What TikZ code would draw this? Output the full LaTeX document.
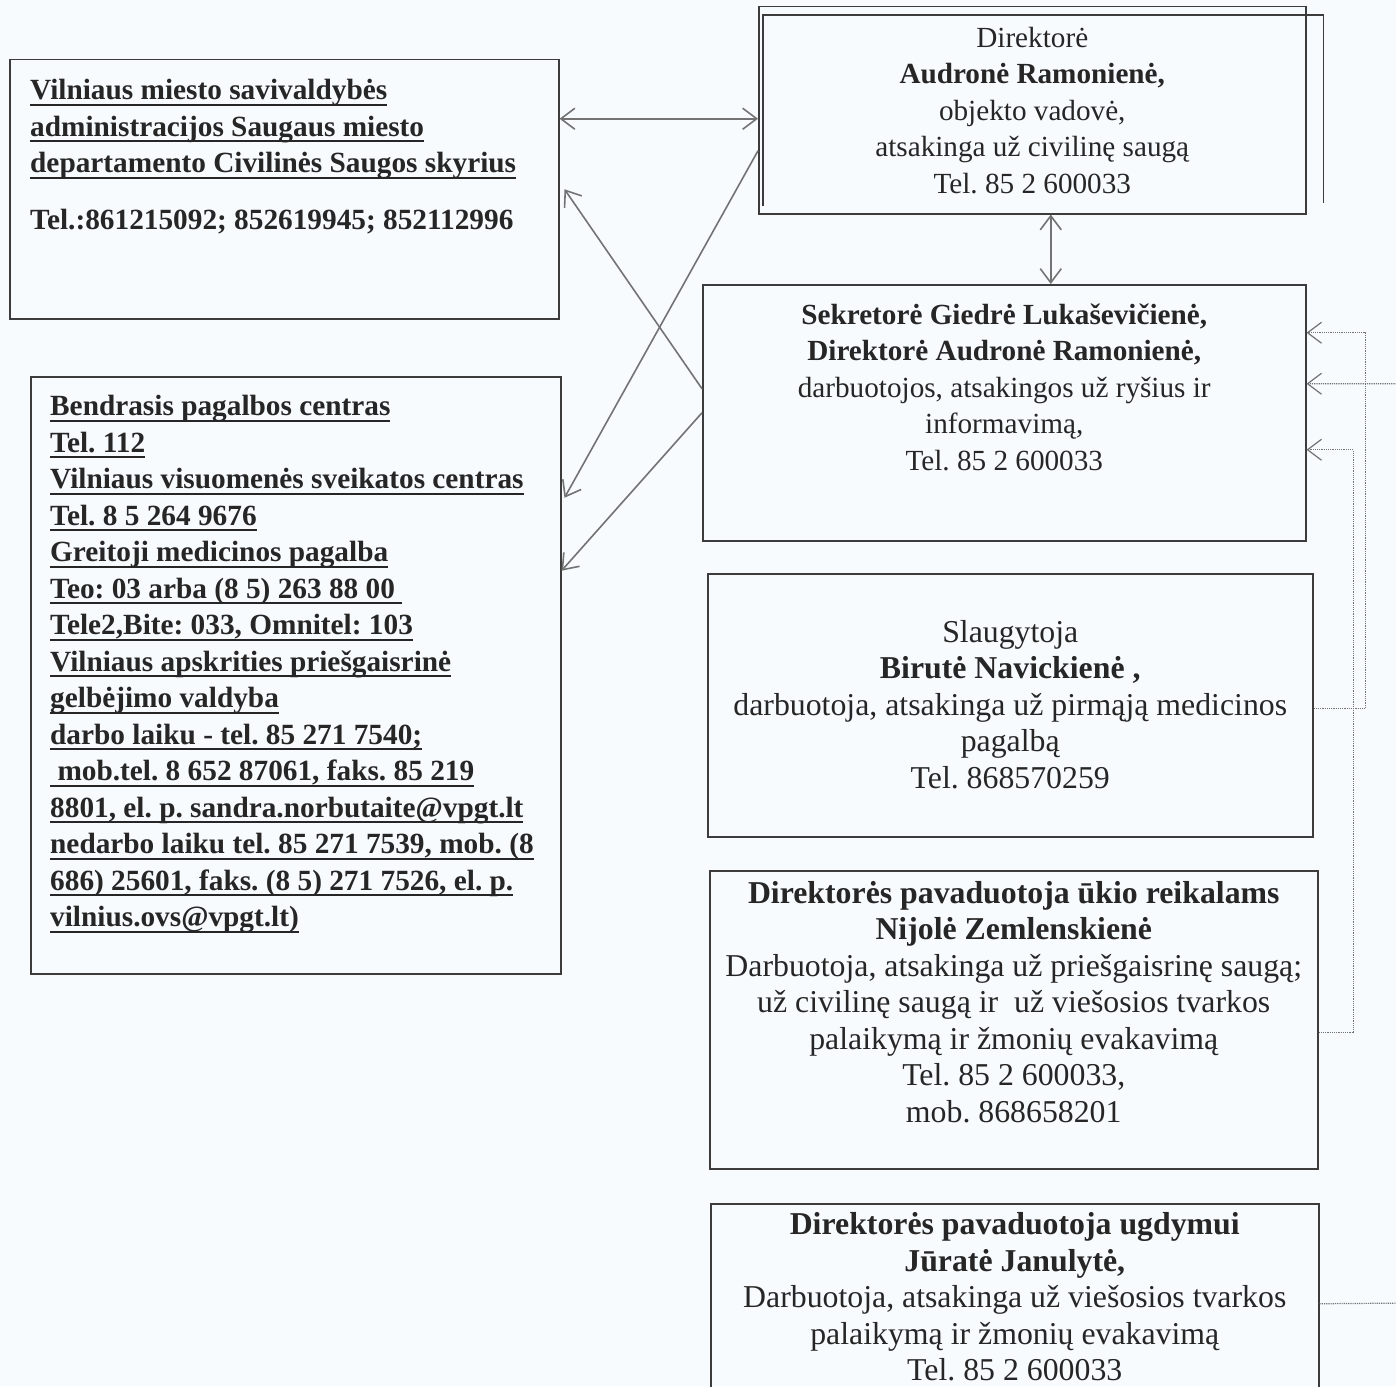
\documentclass[tikz,border=0pt]{standalone}
\usepackage{fontspec}
\setmainfont{Liberation Serif}
\usetikzlibrary{arrows.meta,positioning}
\definecolor{paper}{RGB}{247,251,253}
\definecolor{ink}{RGB}{38,38,38}
\definecolor{frame}{RGB}{60,60,60}
\definecolor{wire}{RGB}{115,115,115}
\newsavebox{\ulbox}
\newcommand{\ulin}[1]{\sbox{\ulbox}{#1}\rlap{\rule[-6pt]{\wd\ulbox}{2pt}}\usebox{\ulbox}}
\frenchspacing

\begin{document}
\begin{tikzpicture}[x=1pt,y=-1pt,
    every node/.style={inner sep=0pt,text=ink},
    >={Straight Barb[length=14pt,width=21pt]},
    frm/.style={draw=frame,line width=1.5pt,rectangle,anchor=north west},
    lft/.style={align=left,font=\fontsize{29.3}{36.5}\selectfont\bfseries},
    ctr/.style={align=center,font=\fontsize{29.2}{36.5}\selectfont},
    big/.style={align=center,font=\fontsize{31.8}{36.5}\selectfont},
    conn/.style={draw=wire,line width=1.6pt},
    link/.style={draw=wire,line width=1.2pt,densely dotted}]
  \fill[paper] (0,0) rectangle (1396,1386);
  \useasboundingbox (0,0) rectangle (1396,1386);

  \node[frm,minimum width=549pt,minimum height=259pt] (vilnius) at (9,59) {};
  \node[frm,minimum width=530pt,minimum height=597pt] (bendr) at (30,376) {};
  \node[frm,minimum width=547pt,minimum height=207pt] (dir) at (758,6) {};
  \node[frm,minimum width=603pt,minimum height=256pt] (sekr) at (702,284) {};
  \node[frm,minimum width=605pt,minimum height=263pt] (slaug) at (707,573) {};
  \node[frm,minimum width=608pt,minimum height=298pt] (ukio) at (709,870) {};
  \node[frm,minimum width=608pt,minimum height=220pt] (ugd) at (710,1203) {};
  \draw[draw=frame,line width=1.5pt] ([xshift=5pt,yshift=9pt]dir.south west) |- ([xshift=17pt,yshift=-9pt]dir.north east) -- ([xshift=17pt,yshift=12pt]dir.south east);

  \node[lft,below right=20pt and 21pt of vilnius.north west] (vilniusT) {\ulin{Vilniaus miesto savivaldybės}\\
    \ulin{administracijos Saugaus miesto}\\
    \ulin{departamento Civilinės Saugos skyrius}\\[20.5pt]
    Tel.:861215092; 852619945; 852112996};
  \node[lft,below right=19pt and 20pt of bendr.north west] (bendrT) {\ulin{Bendrasis pagalbos centras}\\
    \ulin{Tel. 112}\\
    \ulin{Vilniaus visuomenės sveikatos centras}\\
    \ulin{Tel. 8 5 264 9676}\\
    \ulin{Greitoji medicinos pagalba}\\
    \ulin{Teo: 03 arba (8 5) 263 88 00\ }\\
    \ulin{Tele2,Bite: 033, Omnitel: 103}\\
    \ulin{Vilniaus apskrities priešgaisrinė}\\
    \ulin{gelbėjimo valdyba}\\
    \ulin{darbo laiku - tel. 85 271 7540;}\\
    \ulin{\ mob.tel. 8 652 87061, faks. 85 219}\\
    \ulin{8801, el. p. sandra.norbutaite@vpgt.lt}\\
    \ulin{nedarbo laiku tel. 85 271 7539, mob. (8}\\
    \ulin{686) 25601, faks. (8 5) 271 7526, el. p.}\\
    \ulin{vilnius.ovs@vpgt.lt)}};

  \node[ctr,below=21pt of dir.north] (dirT) {Direktorė\\
    \textbf{Audronė Ramonienė,}\\
    objekto vadovė,\\
    atsakinga už civilinę saugą\\
    Tel. 85 2 600033};
  \node[ctr,below=19.5pt of sekr.north] (sekrT) {\textbf{Sekretorė Giedrė Lukaševičienė,}\\
    \textbf{Direktorė Audronė Ramonienė,}\\
    darbuotojos, atsakingos už ryšius ir\\
    informavimą,\\
    Tel. 85 2 600033};
  \node[big,below=47pt of slaug.north] (slaugT) {Slaugytoja\\
    \textbf{Birutė Navickienė ,}\\
    darbuotoja, atsakinga už pirmąją medicinos\\
    pagalbą\\
    Tel. 868570259};
  \node[big,below=11pt of ukio.north] (ukioT) {\textbf{Direktorės pavaduotoja ūkio reikalams}\\
    \textbf{Nijolė Zemlenskienė}\\
    Darbuotoja, atsakinga už priešgaisrinę saugą;\\
    už civilinę saugą ir\ \ už viešosios tvarkos\\
    palaikymą ir žmonių evakavimą\\
    Tel. 85 2 600033,\\
    mob. 868658201};
  \node[big,below=9.5pt of ugd.north] (ugdT) {\textbf{Direktorės pavaduotoja ugdymui}\\
    \textbf{Jūratė Janulytė,}\\
    Darbuotoja, atsakinga už viešosios tvarkos\\
    palaikymą ir žmonių evakavimą\\
    Tel. 85 2 600033};

  \coordinate (rim) at (1410,1303);

  \draw[conn,<->] ([yshift=70.5pt]vilnius.east) -- ([yshift=-8.5pt]dir.west);
  \draw[conn,<->] ([xshift=18.5pt]dir.south) -- ([xshift=18.5pt]dir.south |- sekr.north);
  \draw[conn,->] ([yshift=24pt]sekr.west) -- ([xshift=5pt]vilnius.east);
  \draw[conn,->] ([yshift=-40.5pt]dir.west) -- ([xshift=3pt,yshift=177.5pt]bendr.east);
  \draw[conn,->] (sekr.west) -- ([yshift=104.5pt]bendr.east);
  \draw[link,->] ([yshift=-3.5pt]slaug.east) -- ++(52,0) |- ([yshift=80pt]sekr.east);
  \draw[link,->] ([yshift=10pt]ugd.east) -- (rim) |- ([yshift=29pt]sekr.east);
  \draw[link,->] ([yshift=-13pt]ukio.east) -- ++(35,0) |- ([yshift=-37pt]sekr.east);
\end{tikzpicture}
\end{document}
